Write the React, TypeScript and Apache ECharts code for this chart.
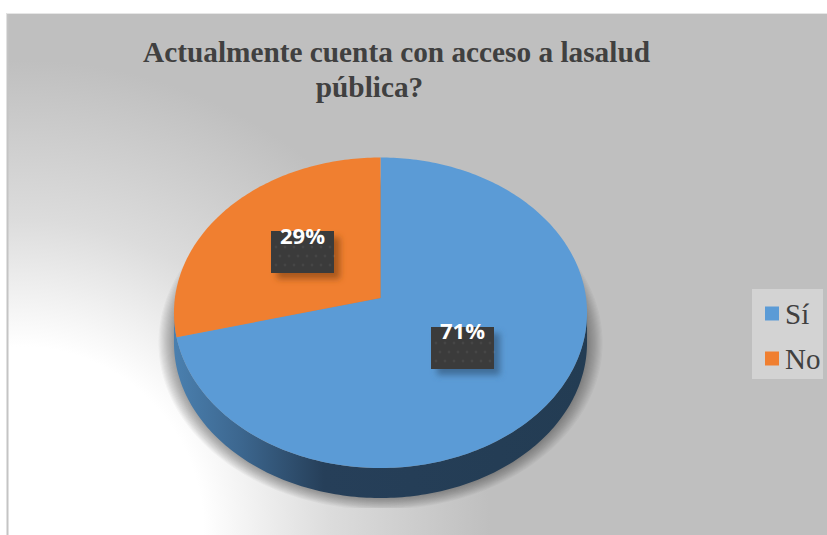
import React, { useEffect, useRef } from "react";
import * as echarts from "echarts";

const titleLines = ["Actualmente cuenta con acceso a lasalud", "pública?"];
const categories = ["Sí", "No"];
const shares = [71, 29];
const sliceColors = ["#5b9bd6", "#f07f30"];
const shareTotal = 100;

const WIDTH = 827;
const HEIGHT = 535;
const serif = '"Liberation Serif", "Times New Roman", serif';

// Tilted disc: a unit circle projected with a slight perspective.
const APEX_X = 380.5;
const APEX_Y = 298;
const SCALE_X = 205.6;
const SCALE_Y = 153.85;
const TILT = -0.095;
const DEPTH = 30;

// Data label plates, one for each category.
const plates = [
  { x: 431, y: 327, shadow: "#3f6d98", textY: 330 },
  { x: 271, y: 231, shadow: "#a9591f", textY: 235 },
];
const PLATE_W = 63;
const PLATE_H = 42;

function project(clockDeg: number): number[] {
  const a = (clockDeg * Math.PI) / 180;
  const ux = Math.sin(a);
  const uy = -Math.cos(a);
  const d = 1 + TILT * uy;
  return [APEX_X + (SCALE_X * ux) / d, APEX_Y + (SCALE_Y * uy) / d];
}

function arc(from: number, to: number, dy = 0): number[][] {
  const steps = Math.max(2, Math.ceil(Math.abs(to - from)));
  const pts: number[][] = [];
  for (let i = 0; i <= steps; i++) {
    const [x, y] = project(from + ((to - from) * i) / steps);
    pts.push([x, y + dy]);
  }
  return pts;
}

// The visible wall runs between the two tangent points of the disc's outline.
const WALL_FROM = 95.5;
const WALL_TO = 264.5;

function wallElement() {
  const outline = [...arc(WALL_FROM, WALL_TO), ...arc(WALL_TO, WALL_FROM, DEPTH)];
  return {
    type: "polygon",
    shape: { points: outline },
    style: {
      fill: new echarts.graphic.LinearGradient(176, 0, 587, 0, [
        { offset: 0, color: "#4a7fae" },
        { offset: 0.16, color: "#3c668e" },
        { offset: 0.36, color: "#263f59" },
        { offset: 1, color: "#233c53" },
      ], true),
    },
  };
}

// Soft cast shadow built from stacked translucent outlines, cut off flat at its base.
const HALO_LAYERS = 14;
const HALO_SPREAD = 0.075;
const HALO_DROP = 30;
const HALO_FLOOR = 508;
const HALO_CX = 380.5;
const HALO_CY = 313;

function haloElements() {
  const layers: any[] = [];
  for (let k = 0; k < HALO_LAYERS; k++) {
    const grow = 1 + HALO_SPREAD * (1 - k / HALO_LAYERS);
    const points = arc(0, 360).map(([x, y]) => [
      HALO_CX + (x - HALO_CX) * grow,
      Math.min(HALO_FLOOR, HALO_CY + HALO_DROP + (y - HALO_CY) * grow),
    ]);
    layers.push({
      type: "polygon",
      shape: { points },
      style: { fill: "rgba(30,30,30,0.032)" },
    });
  }
  return layers;
}

function plateElements(index: number, share: number) {
  const p = plates[index];
  const dots: any[] = [];
  for (let row = 0; row < 3; row++) {
    for (let col = 0; col < 7; col++) {
      dots.push({
        type: "circle",
        shape: { cx: p.x + 5 + col * 9 + (row % 2) * 4, cy: p.y + 16 + row * 9, r: 1.4 },
        style: { fill: "rgba(255,255,255,0.06)" },
      });
    }
  }
  return [
    {
      type: "rect",
      shape: { x: p.x, y: p.y, width: PLATE_W, height: PLATE_H },
      style: {
        fill: "#3b3b3b",
        shadowBlur: 6,
        shadowOffsetX: 6,
        shadowOffsetY: 6,
        shadowColor: p.shadow,
      },
    },
    ...dots,
    {
      type: "text",
      style: {
        x: p.x + PLATE_W / 2,
        y: p.textY,
        text: `${share}%`,
        align: "center",
        verticalAlign: "middle",
        fill: "#ffffff",
        font: 'bold 22px "Open Sans", sans-serif',
      },
    },
  ];
}

function renderSlice(params: any, api: any) {
  const i = params.seriesIndex;
  const value = api.value(0);
  const before = shares.slice(0, i).reduce((s, v) => s + v, 0);
  const start = (before / shareTotal) * 360;
  const end = ((before + value) / shareTotal) * 360;
  const top = {
    type: "polygon",
    shape: { points: [[APEX_X, APEX_Y], ...arc(start, end)] },
    style: { fill: sliceColors[i] },
  };
  const underlay = i === 0 ? [...haloElements(), wallElement()] : [];
  return {
    type: "group",
    children: [...underlay, top],
  };
}

function renderPlate(params: any, api: any) {
  const index = api.value(0);
  return { type: "group", children: plateElements(index, shares[index]) };
}

export default function App() {
  const ref = useRef<HTMLDivElement>(null);

  useEffect(() => {
    const chart = echarts.init(ref.current!, null, { renderer: "svg" });
    chart.setOption({
      animation: false,
      backgroundColor: "#ffffff",
      title: [
        {
          text: titleLines[0],
          left: 391.5,
          top: 32,
          textAlign: "center",
          textStyle: { fontFamily: serif, fontWeight: "bold", fontSize: 29.3, color: "#404040" },
        },
        {
          text: titleLines[1],
          left: 364.5,
          top: 67,
          textAlign: "center",
          textStyle: { fontFamily: serif, fontWeight: "bold", fontSize: 29.3, color: "#404040" },
        },
      ],
      legend: {
        orient: "vertical",
        left: 752,
        top: 289,
        padding: [10, 0, 0, 13],
        itemWidth: 14,
        itemHeight: 14,
        itemGap: 16,
        icon: "rect",
        data: categories,
        textStyle: { fontFamily: serif, fontSize: 29, color: "#404040", padding: [4, 0, 0, 1] },
        selectedMode: false,
      },
      graphic: {
        elements: [
          {
            type: "rect",
            z: -10,
            silent: true,
            shape: { x: 7, y: 13, width: WIDTH - 7, height: HEIGHT - 13 },
            style: {
              fill: new echarts.graphic.RadialGradient(20, 530, 470, [
                { offset: 0, color: "#ffffff" },
                { offset: 0.39, color: "#ffffff" },
                { offset: 0.66, color: "#dcdcdc" },
                { offset: 1, color: "#bfbfbf" },
              ], true),
            },
          },
          {
            type: "line",
            z: -9,
            silent: true,
            shape: { x1: 7.5, y1: 13, x2: 7.5, y2: HEIGHT },
            style: { stroke: "#c4c4c4", lineWidth: 2 },
          },
          {
            type: "line",
            z: -9,
            silent: true,
            shape: { x1: 7, y1: 13.5, x2: WIDTH, y2: 13.5 },
            style: { stroke: "#e6e6e6", lineWidth: 1 },
          },
          {
            type: "rect",
            z: -8,
            silent: true,
            shape: { x: 752, y: 289, width: 71, height: 90 },
            style: { fill: "#d3d3d3" },
          },
        ],
      },
      series: [
        ...categories.map((name, i) => ({
          type: "custom",
          name,
          coordinateSystem: "none",
          silent: true,
          itemStyle: { color: sliceColors[i] },
          data: [[shares[i]]],
          renderItem: renderSlice,
          z: 2,
        })),
        {
          type: "custom",
          coordinateSystem: "none",
          silent: true,
          data: categories.map((_, i) => [i]),
          renderItem: renderPlate,
          z: 3,
        },
      ],
    });
    return () => chart.dispose();
  }, []);

  return (
    <div
      ref={ref}
      style={{ position: "absolute", left: 0, top: 0, width: WIDTH, height: HEIGHT }}
    />
  );
}
